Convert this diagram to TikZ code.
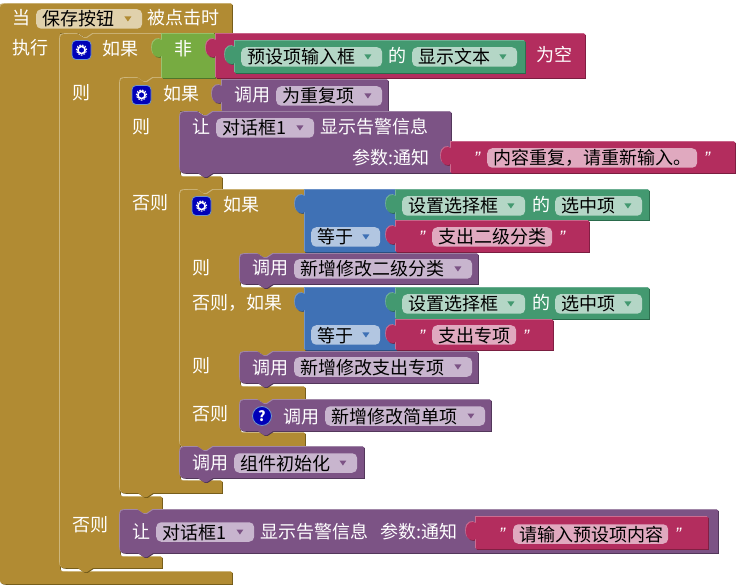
\documentclass[tikz,border=0pt]{standalone}
\usepackage{fontspec}
\setmainfont{Noto Sans CJK SC}
\newfontfamily\quotefont{Liberation Sans}

\definecolor{goldM}{HTML}{B18B33}
\definecolor{goldL}{HTML}{CDB67C}
\definecolor{goldD}{HTML}{6F5818}
\definecolor{goldF}{HTML}{E0D1AC}
\definecolor{purpleM}{HTML}{7C5385}
\definecolor{purpleL}{HTML}{A187A8}
\definecolor{purpleD}{HTML}{4E3455}
\definecolor{purpleF}{HTML}{C8B5CE}
\definecolor{pinkM}{HTML}{B32D5E}
\definecolor{pinkL}{HTML}{CC6C90}
\definecolor{pinkD}{HTML}{7A1E40}
\definecolor{pinkF}{HTML}{E0A9BF}
\definecolor{greenM}{HTML}{439970}
\definecolor{greenL}{HTML}{73B397}
\definecolor{greenD}{HTML}{2A6A4B}
\definecolor{greenF}{HTML}{B4D6C6}
\definecolor{blueM}{HTML}{3F71B5}
\definecolor{blueL}{HTML}{7095CA}
\definecolor{blueD}{HTML}{2A4E80}
\definecolor{blueF}{HTML}{B2C6E1}
\definecolor{oliveM}{HTML}{77AB41}
\definecolor{oliveL}{HTML}{9BC26F}
\definecolor{oliveD}{HTML}{4F752A}
\definecolor{iconblue}{HTML}{0000B8}

\tikzset{
    label/.style={text=white, inner sep=0pt, anchor=west, text height=15pt, text depth=1pt, font=\fontsize{18}{20}\selectfont},
    menufield/.style={text=black, inner xsep=6.5pt, inner ysep=0pt, anchor=west, rounded corners=5pt, minimum height=19.5pt, text height=15pt, text depth=1pt, font=\fontsize{18}{20}\selectfont},
    iconbox/.style={fill=iconblue, draw=blueL, line width=0.8pt, rounded corners=4pt, minimum size=19pt, inner sep=0pt}
}

\newcommand{\cornerTL}{.. controls +(0,-8) .. +(8,-8)}
\newcommand{\cornerBL}{.. controls +(-8,0) .. +(-8,-8)}
\newcommand{\innerBL}{.. controls +(0,8) .. +(8,8)}
\newcommand{\notch}{-- ++(6,4) -- ++(3,0) -- ++(6,-4)}
\newcommand{\tabb}{-- ++(-6,4) -- ++(-3,0) -- ++(-6,-4)}
\newcommand{\tabup}{.. controls +(-3,2) and +(0,10) .. ++(-10,-8) .. controls +(0,-10) and +(-3,-2) .. ++(10,-8)}

\newcommand{\block}[2]{
    \fill[#1D, shift={(0.8,0.8)}] #2;
    \fill[#1L, shift={(-0.8,-0.8)}] #2;
    \fill[#1M] #2;
}

\newcommand{\stmtblock}[5]{\block{#1}{(#2,#4+8) \cornerTL -- (#2+18,#4) \notch -- (#3,#4) -- (#3,#5) -- (#2+33,#5) \tabb -- (#2+8,#5) \cornerBL -- cycle}}

\newcommand{\valueblock}[5]{\block{#1}{(#2,#5) -- (#2,#4+22) \tabup -- (#2,#4) -- (#3,#4) -- (#3,#5) -- cycle}}

\newcommand{\textfield}[6]{
    \pgfmathsetmacro{\menuwidth}{#4-#3-13}
    \node[menufield, fill=#2F, text width=\menuwidth pt] (#1) at (#3,#5) {#6};
}

\newcommand{\menu}[6]{
    \textfield{#1}{#2}{#3}{#4}{#5}{#6}
    \fill[#2M, shift={(#1.east)}] (-18,-2.5) -- (-11,-2.5) -- (-14.5,2.5) -- cycle;
}

\newcommand{\gearicon}[3]{
    \node[iconbox] (#1) at (#2,#3) {};
    \draw[white, line width=1.6pt] (#1.center) circle[radius=3.6pt];
    \draw[white, line width=1pt, dash pattern=on 1.6pt off 1.3pt] (#1.center) circle[radius=5.2pt];
}

\newcommand{\quotemark}[3]{\node[label] (#1) at (#2,#3) {\quotefont\itshape ”};}

\begin{document}
\begin{tikzpicture}[x=1pt, y=-1pt]
    \useasboundingbox (0,0) rectangle (737,588);

    \block{gold}{(0,12) \cornerTL -- (232,4) -- (232,33) -- (93,33) \tabb -- (60,33) -- (60,564) \innerBL -- (232,572) -- (232,584) -- (8,584) \cornerBL -- cycle}

    \block{gold}{(60,42) \cornerTL -- (78,34) \notch -- (162,34) -- (162,78) -- (153,78) \tabb -- (120,78) -- (120,489) \innerBL -- (162,497) -- (162,510) -- (153,510) \tabb -- (120,510) -- (120,549) \innerBL -- (162,557) -- (162,568) -- (93,568) \tabb -- (68,568) \cornerBL -- cycle}

    \block{gold}{(120,86) \cornerTL -- (138,78) \notch -- (222,78) -- (222,111) -- (213,111) \tabb -- (180,111) -- (180,169) \innerBL -- (222,177) -- (222,190) -- (213,190) \tabb -- (180,190) -- (180,473) \innerBL -- (222,481) -- (222,493) -- (153,493) \tabb -- (128,493) \cornerBL -- cycle}

    \block{gold}{(180,198) \cornerTL -- (198,190) \notch -- (305,190) -- (305,254) -- (274,254) \tabb -- (240,254) -- (240,280) \innerBL -- (305,288) -- (305,352) -- (274,352) \tabb -- (240,352) -- (240,379) \innerBL -- (305,387) -- (305,400) -- (274,400) \tabb -- (240,400) -- (240,425) \innerBL -- (305,433) -- (305,447) -- (213,447) \tabb -- (188,447) \cornerBL -- cycle}

    \valueblock{olive}{162}{215}{34}{78}

    \valueblock{pink}{216}{585}{34}{78}

    \valueblock{green}{235}{525}{41}{73}

    \valueblock{purple}{222}{388}{80}{111}

    \stmtblock{purple}{180}{451}{112}{173}

    \valueblock{pink}{451}{735}{142}{173}

    \valueblock{blue}{305}{396}{190}{252}

    \valueblock{green}{396}{649}{190}{220}

    \valueblock{pink}{396}{589}{221}{252}

    \stmtblock{purple}{240}{478}{254}{284}

    \valueblock{blue}{305}{396}{288}{350}

    \valueblock{green}{396}{649}{288}{319}

    \valueblock{pink}{396}{553}{320}{350}

    \stmtblock{purple}{240}{478}{352}{383}

    \stmtblock{purple}{240}{491}{400}{431}

    \stmtblock{purple}{180}{364}{447}{478}

    \stmtblock{purple}{120}{718}{510}{553}

    \valueblock{pink}{476}{708}{517}{549}

    \node[label] (whenlabel) at (12,18) {当};

    \menu{savebutton}{gold}{36}{142}{19}{保存按钮}

    \node[label] (clickedlabel) at (147,18) {被点击时};

    \node[label] (dolabel) at (12,48) {执行};

    \gearicon{gearone}{81.5}{50}

    \node[label] (ifone) at (102,49) {如果};

    \node[label] (notlabel) at (174,49) {非};

    \menu{presetbox}{green}{241}{382}{57}{预设项输入框}

    \node[label] (oflabel) at (388,56) {的};

    \menu{showtext}{green}{412}{517}{57}{显示文本}

    \node[label] (emptylabel) at (536,55) {为空};

    \node[label] (thenone) at (72,93) {则};

    \gearicon{geartwo}{141.5}{95}

    \node[label] (iftwo) at (163,94) {如果};

    \node[label] (calldup) at (234,95) {调用};

    \menu{dupitem}{purple}{276}{382}{96}{为重复项}

    \node[label] (letone) at (192,127) {让};

    \menu{dialogone}{purple}{216}{314}{128}{对话框1}

    \node[label] (alertone) at (320,127) {显示告警信息};

    \node[label] (argone) at (352,158) {参数:通知};

    \node[label] (thentwo) at (132,127) {则};

    \quotemark{quoteaopen}{474}{158}

    \textfield{dupmsg}{pink}{487}{697}{158}{内容重复，请重新输入。}

    \quotemark{quoteaclose}{704}{158}

    \node[label] (elsetwo) at (132,203) {否则};

    \gearicon{gearthree}{201.5}{206}

    \node[label] (ifthree) at (223,205) {如果};

    \menu{equalone}{blue}{311}{380}{237}{等于}

    \menu{selectone}{green}{402}{525}{206}{设置选择框}

    \node[label] (ofone) at (532,205) {的};

    \menu{checkedone}{green}{555}{642}{206}{选中项}

    \quotemark{quotebopen}{419}{237}

    \textfield{levelmsg}{pink}{432}{552}{237}{支出二级分类}

    \quotemark{quotebclose}{559}{237}

    \node[label] (thenthree) at (192,268) {则};

    \node[label] (callone) at (252,268) {调用};

    \menu{addlevel}{purple}{294}{472}{269}{新增修改二级分类}

    \node[label] (elseifthree) at (192,303) {否则，如果};

    \menu{equaltwo}{blue}{311}{380}{335}{等于}

    \menu{selecttwo}{green}{402}{525}{304}{设置选择框}

    \node[label] (oftwo) at (532,303) {的};

    \menu{checkedtwo}{green}{555}{642}{304}{选中项}

    \quotemark{quotecopen}{419}{335}

    \textfield{itemmsg}{pink}{432}{516}{335}{支出专项}

    \quotemark{quotecclose}{523}{335}

    \node[label] (thenfour) at (192,366) {则};

    \node[label] (calltwo) at (252,367) {调用};

    \menu{additem}{purple}{294}{472}{367}{新增修改支出专项}

    \node[label] (elsethree) at (192,413) {否则};

    \node[circle, fill=iconblue, draw=blueL, line width=0.8pt, minimum size=19pt, inner sep=0pt, text=white, font=\fontsize{14}{14}\selectfont\bfseries] (helpicon) at (262,416) {?};

    \node[label] (callthree) at (283,416) {调用};

    \menu{addsimple}{purple}{325}{485}{416}{新增修改简单项}

    \node[label] (callinit) at (192,462) {调用};

    \menu{initpart}{purple}{234}{357}{463}{组件初始化}

    \node[label] (elseone) at (72,524) {否则};

    \node[label] (lettwo) at (132,531) {让};

    \menu{dialogtwo}{purple}{156}{254}{532}{对话框1}

    \node[label] (alerttwo) at (260,531) {显示告警信息};

    \node[label] (argtwo) at (380,531) {参数:通知};

    \quotemark{quotedopen}{499}{533}

    \textfield{presetmsg}{pink}{513}{668}{534}{请输入预设项内容}

    \quotemark{quotedclose}{675}{533}
\end{tikzpicture}
\end{document}
